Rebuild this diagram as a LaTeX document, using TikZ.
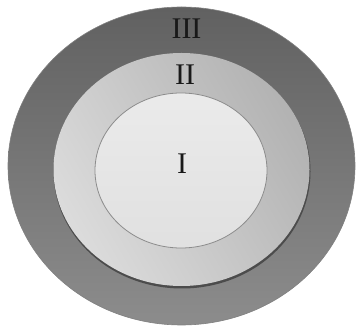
\documentclass[tikz,border=0pt]{standalone}
\usepackage{fontspec}
\setmainfont{Liberation Serif}
\begin{document}
\begin{tikzpicture}[x=1pt,y=-1pt,
  lbl/.style={font=\fontsize{30}{30}\selectfont, text=black!90}]
\useasboundingbox (0,0) rectangle (356,328);
% outer
\shade[top color=black!62, bottom color=black!45, draw=black!50, line width=0.6pt]
  (181.5,166) ellipse [x radius=173.5, y radius=159];
% middle shadow edge
\fill[black!70] (182,171.5) ellipse [x radius=128.5, y radius=117];
\shade[left color=black!14, right color=black!30, shading angle=120]
  (181.5,169.5) ellipse [x radius=128, y radius=116.5];
% inner
\shade[top color=black!8, bottom color=black!12, draw=black!45, line width=0.8pt]
  (181,170.5) ellipse [x radius=86, y radius=77.5];
\node[lbl] (t3) at (186.5,28.5) {III};
\node[lbl] (t2) at (185,74.5) {II};
\node[lbl] (t1) at (182,164) {I};
\end{tikzpicture}
\end{document}
